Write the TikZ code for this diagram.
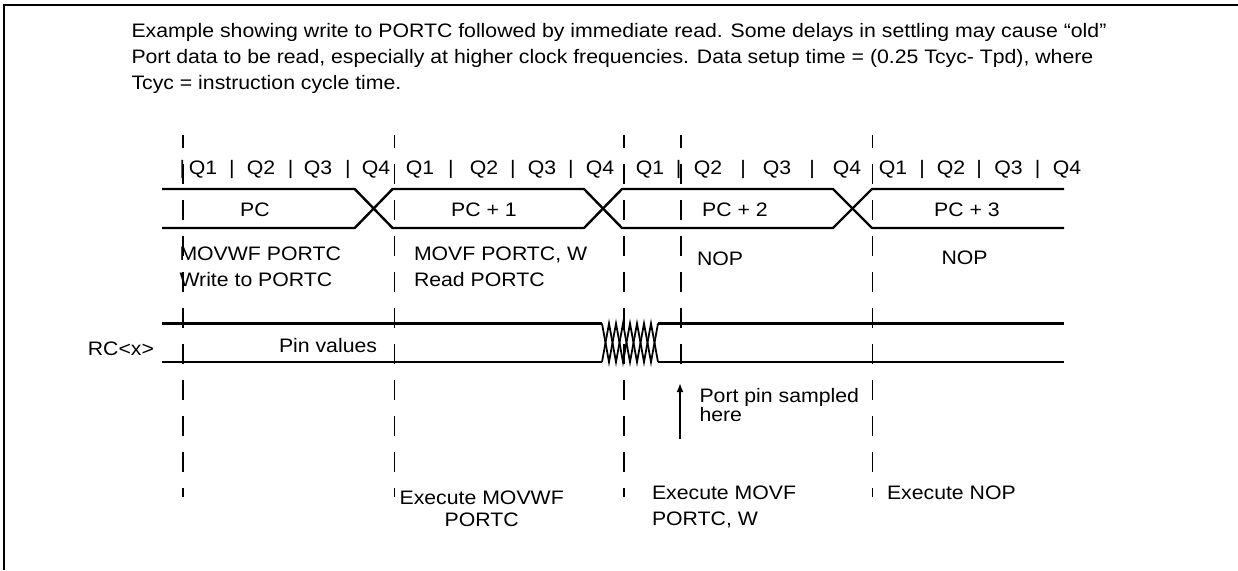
\documentclass[tikz,border=0pt]{standalone}
\usepackage{fontspec}
\setmainfont{Liberation Sans}[FakeStretch=1.09]
\usetikzlibrary{arrows.meta}
\begin{document}
\begin{tikzpicture}[x=1pt,y=-1pt,
  txt/.style={font=\fontsize{19.5}{24}\selectfont, inner sep=0pt, outer sep=0pt},
  frameline/.style={line width=2.5pt},
  bus/.style={line width=2.4pt, line join=miter},
  zig/.style={line width=1.8pt},
  gridline/.style={line width=1.2pt, dash pattern=on 20pt off 16pt, dash phase=7pt},
  arrowline/.style={line width=2pt, -{Latex[length=9pt,width=7pt]}}]
\useasboundingbox (0,0) rectangle (1238,570);
% frame (top and left)
\draw[frameline] (4,570) -- (4,5) -- (1238,5);
% note text
\node[txt,anchor=base west] (note1) at (131.5,37.5) {Example showing write to PORTC followed by immediate read. Some delays in settling may cause “old”};
\node[txt,anchor=base west] (note2) at (131.5,63.5) {Port data to be read, especially at higher clock frequencies. Data setup time = (0.25 Tcyc- Tpd), where};
\node[txt,anchor=base west] (note3) at (131.5,89.5) {Tcyc = instruction cycle time.};
% dashed cycle boundaries
\foreach \x in {183,394.8,624,872.7} \draw[gridline] (\x,135) -- (\x,497);
\draw[gridline] (681,135) -- (681,368);
% Q phase labels
\foreach \x [count=\i] in {203,261,318,376,420,484,542,600,650,708,777,847,893,951,1008.5,1067}{
  \pgfmathtruncatemacro\qn{mod(\i-1,4)+1}
  \node[txt,anchor=base] (q\i) at (\x,174) {Q\qn};
}
\foreach \x [count=\i] in {182.5,232,290.6,348,451,513,571,678.5,743,812,922,979,1037.7}
  \node[txt,anchor=base] (sep\i) at (\x,174) {|};
% PC bus
\draw[bus] (162,189) -- (354.7,189) -- (392.6,228) -- (584,228) -- (622,189) -- (833,189) -- (872,228) -- (1064,228);
\draw[bus] (162,228) -- (354.7,228) -- (392.6,189) -- (584,189) -- (622,228) -- (833,228) -- (872,189) -- (1064,189);
\node[txt,anchor=base] (pc0) at (255,216) {PC};
\node[txt,anchor=base] (pc1) at (484,216) {PC + 1};
\node[txt,anchor=base] (pc2) at (735,216) {PC + 2};
\node[txt,anchor=base] (pc3) at (967,216) {PC + 3};
% instructions
\node[txt,anchor=base west] (i1a) at (179.5,260) {MOVWF PORTC};
\node[txt,anchor=base west] (i1b) at (179.5,286) {Write to PORTC};
\node[txt,anchor=base west] (i2a) at (414,260) {MOVF PORTC, W};
\node[txt,anchor=base west] (i2b) at (414,286) {Read PORTC};
\node[txt,anchor=base west] (nop1) at (697,265) {NOP};
\node[txt,anchor=base west] (nop2) at (941.5,264) {NOP};
% RC<x> signal
\draw[bus] (162,323.5) -- (602,323.5);
\draw[bus] (162,362) -- (602,362);
\draw[zig] (602,362) -- (609,323.5) -- (616,362) -- (623,323.5) -- (630,362) -- (637,323.5) -- (644,362) -- (651,323.5) -- (658,362);
\draw[zig] (602,323.5) -- (609,362) -- (616,323.5) -- (623,362) -- (630,323.5) -- (637,362) -- (644,323.5) -- (651,362) -- (658,323.5);
\draw[bus] (658,323.5) -- (1064,323.5);
\draw[bus] (658,362) -- (1064,362);
\node[txt,anchor=base east] (rc) at (154,355) {RC<x>};
\node[txt,anchor=base west] (pin) at (279,352) {Pin values};
% sample arrow
\coordinate (arrS) at (680,439);
\coordinate (arrE) at (680,383);
\draw[arrowline] (arrS) -- (arrE);
\node[txt,anchor=base west] (samp1) at (699.5,402) {Port pin sampled};
\node[txt,anchor=base west] (samp2) at (699.5,421) {here};
% execute labels
\node[txt,anchor=base west] (ex1a) at (399.6,504) {Execute MOVWF};
\node[txt,anchor=base] (ex1b) at (ex1a.base |- 0,526) {PORTC};
\node[txt,anchor=base west] (ex2a) at (652,499) {Execute MOVF};
\node[txt,anchor=base west] (ex2b) at (652,525) {PORTC, W};
\node[txt,anchor=base west] (ex3) at (887,499) {Execute NOP};
\end{tikzpicture}
\end{document}
